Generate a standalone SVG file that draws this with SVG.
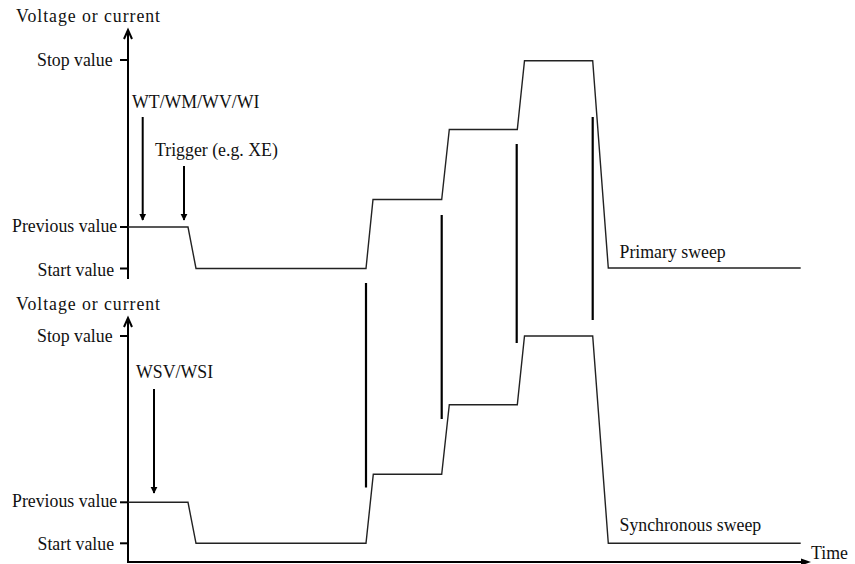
<svg xmlns="http://www.w3.org/2000/svg" width="855" height="564" viewBox="0 0 855 564">
<defs>
<marker id="ah" viewBox="0 0 10 10" refX="9" refY="5" markerWidth="7" markerHeight="9" markerUnits="userSpaceOnUse" orient="auto"><path d="M0,0 L10,5 L0,10 z" fill="#000"/></marker>
<style>
text{font-family:"Liberation Serif","Times New Roman",serif;font-size:17.8px;fill:#111}
.ax{stroke:#000;stroke-width:2;fill:none}
.wave{stroke:#222;stroke-width:1.4;fill:none;stroke-linejoin:miter}
.mark{stroke:#000;stroke-width:2.2}
.arr{stroke:#000;stroke-width:2;marker-end:url(#ah)}
</style>
</defs>
<rect width="855" height="564" fill="#fff"/>
<g id="primary-axes">
<line class="ax" x1="128" y1="279" x2="128" y2="33"/>
<path d="M124,39 L128,30 L132,39" class="ax"/>
<line class="ax" x1="120" y1="60" x2="128" y2="60"/>
<line class="ax" x1="120" y1="227" x2="128" y2="227"/>
<line class="ax" x1="120" y1="268.5" x2="128" y2="268.5"/>
<text x="16" y="22" textLength="144" lengthAdjust="spacing">Voltage or current</text>
<text x="37" y="65.5">Stop value</text>
<text x="12" y="231.5">Previous value</text>
<text x="37.5" y="276">Start value</text>
</g>
<g id="primary-sweep">
<polyline class="wave" points="128,227 188,227 196,268.5 366,268.5 373,199.5 441.7,199.5 449.3,129.5 517.3,129.5 524.5,60.7 592.7,60.7 608.3,268 800.7,268"/>
<text x="619.5" y="258">Primary sweep</text>
</g>
<g id="sync-axes">
<line class="ax" x1="128" y1="563" x2="128" y2="321"/>
<path d="M124,327 L128,318 L132,327" class="ax"/>
<line class="ax" x1="120" y1="336" x2="128" y2="336"/>
<line class="ax" x1="120" y1="502.3" x2="128" y2="502.3"/>
<line class="ax" x1="120" y1="543.3" x2="128" y2="543.3"/>
<line class="ax" x1="127" y1="562" x2="808" y2="562"/>
<path d="M801,558.5 L811,562 L801,565.5 z" fill="#000"/>
<text x="16" y="310" textLength="144" lengthAdjust="spacing">Voltage or current</text>
<text x="37" y="341.5">Stop value</text>
<text x="12" y="507">Previous value</text>
<text x="37.5" y="550">Start value</text>
<text x="811" y="559">Time</text>
</g>
<g id="sync-sweep">
<polyline class="wave" points="128,502.3 188,502.3 196,543.3 366,543.3 373.3,474.3 441.7,474.3 449.3,404.7 517.3,404.7 524.5,336 592.7,336 608.3,543.3 800.7,543.3"/>
<text x="619.5" y="531">Synchronous sweep</text>
</g>
<g id="labels">
<text x="132" y="108">WT/WM/WV/WI</text>
<text x="155" y="156">Trigger (e.g. XE)</text>
<text x="136" y="378">WSV/WSI</text>
</g>
<g id="connectors">
<line class="arr" x1="142.7" y1="117" x2="142.7" y2="220"/>
<line class="arr" x1="184" y1="166" x2="184" y2="220"/>
<line class="arr" x1="154" y1="389" x2="154" y2="493"/>
<line class="mark" x1="366" y1="283" x2="366" y2="487.5"/>
<line class="mark" x1="441.7" y1="215" x2="441.7" y2="419"/>
<line class="mark" x1="516.7" y1="144" x2="516.7" y2="343"/>
<line class="mark" x1="592.7" y1="117" x2="592.7" y2="320"/>
</g>
</svg>
